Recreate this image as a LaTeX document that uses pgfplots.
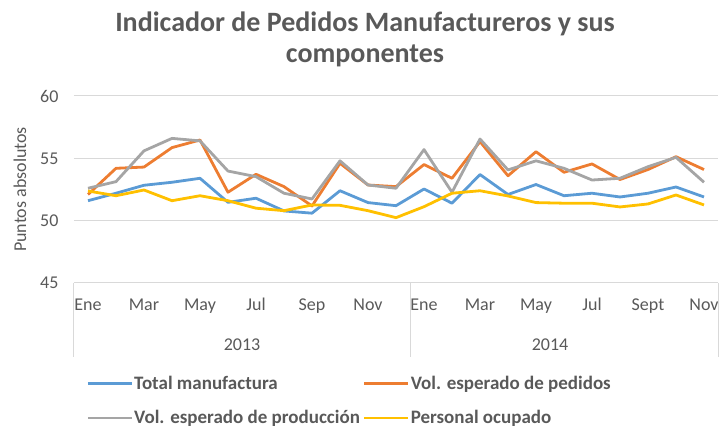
\documentclass[border=0pt]{standalone}
\usepackage{pgfplots}
\pgfplotsset{compat=1.18}
\usepackage{fontspec}
\setmainfont{Carlito}
\definecolor{txt}{HTML}{595959}
\definecolor{grd}{HTML}{D9D9D9}
\definecolor{cblue}{HTML}{5B9BD5}
\definecolor{corange}{HTML}{ED7D31}
\definecolor{cgray}{HTML}{A5A5A5}
\definecolor{cyellow}{HTML}{FFC000}
\begin{document}
\begin{tikzpicture}
\path[use as bounding box] (-74pt,-147pt) rectangle (647pt,283pt);
\begin{axis}[
  at={(0,0)}, anchor=south west,
  scale only axis, width=644pt, height=187pt,
  xmin=-0.5, xmax=22.5, ymin=45, ymax=60,
  ytick={45,50,55,60},
  xtick={0,2,4,6,8,10,12,14,16,18,20,22},
  xticklabels={Ene,Mar,May,Jul,Sep,Nov,Ene,Mar,May,Jul,Sept,Nov},
  ymajorgrids, grid style={grd, line width=1pt},
  axis line style={draw=none}, tick style={draw=none},
  tick label style={font=\fontsize{18}{20}\selectfont, text=txt},
  /pgf/number format/assume math mode=true,
  xticklabel style={anchor=base, yshift=-28pt},
  yticklabel style={anchor=east, xshift=-12pt},
  ylabel={Puntos absolutos},
  every axis y label/.style={at={(axis description cs:-0.084,0.5)}, rotate=90, anchor=center,
    font=\fontsize{18}{20}\selectfont, text=txt},
  clip=false,
  legend columns=2,
  legend cell align=left,
  legend style={draw=none, fill=none, inner sep=0pt,
    at={(axis description cs:0.019,-0.49)}, anchor=north west,
    font=\fontsize{19}{21}\selectfont\bfseries, text=txt,
    nodes={inner sep=1pt},
    /tikz/every odd column/.append style={column sep=0pt},
    /tikz/column 2/.style={column sep=2pt},
    row sep=18pt},
  legend image code/.code={\draw[#1, line width=2.8pt] (0pt,0pt) -- (44pt,0pt);},
  every axis plot/.append style={line width=2.8pt, line join=round},
]
\addplot[cblue] coordinates {(0,51.6) (1,52.2) (2,52.84) (3,53.08) (4,53.4) (5,51.47) (6,51.8) (7,50.78) (8,50.6) (9,52.4) (10,51.45) (11,51.2) (12,52.54) (13,51.4) (14,53.7) (15,52.1) (16,52.9) (17,52.0) (18,52.2) (19,51.9) (20,52.2) (21,52.7) (22,51.9)};
\addlegendentry{Total manufactura}
\addplot[corange] coordinates {(0,52.1) (1,54.2) (2,54.3) (3,55.86) (4,56.47) (5,52.28) (6,53.72) (7,52.73) (8,51.18) (9,54.6) (10,52.86) (11,52.73) (12,54.5) (13,53.4) (14,56.34) (15,53.6) (16,55.53) (17,53.88) (18,54.55) (19,53.3) (20,54.1) (21,55.13) (22,54.1)};
\addlegendentry{Vol. esperado de pedidos}
\addplot[cgray] coordinates {(0,52.6) (1,53.13) (2,55.6) (3,56.6) (4,56.4) (5,53.98) (6,53.53) (7,52.2) (8,51.74) (9,54.8) (10,52.86) (11,52.6) (12,55.7) (13,52.28) (14,56.55) (15,54.07) (16,54.8) (17,54.2) (18,53.26) (19,53.4) (20,54.33) (21,55.08) (22,53.08)};
\addlegendentry{Vol. esperado de producción}
\addplot[cyellow] coordinates {(0,52.38) (1,52.0) (2,52.46) (3,51.6) (4,52.0) (5,51.6) (6,51.0) (7,50.8) (8,51.26) (9,51.23) (10,50.8) (11,50.24) (12,51.12) (13,52.2) (14,52.4) (15,51.98) (16,51.45) (17,51.4) (18,51.4) (19,51.1) (20,51.34) (21,52.06) (22,51.26)};
\addlegendentry{Personal ocupado}
% category group separators and years
\draw[grd, line width=1pt] (axis cs:-0.5,45) -- ([yshift=-74pt]axis cs:-0.5,45);
\draw[grd, line width=1pt] (axis cs:11.5,45) -- ([yshift=-74pt]axis cs:11.5,45);
\draw[grd, line width=1pt] (axis cs:22.5,45) -- ([yshift=-74pt]axis cs:22.5,45);
\node[anchor=base, text=txt, font=\fontsize{18}{20}\selectfont] at ([yshift=-68pt]axis cs:5.5,45) {2013};
\node[anchor=base, text=txt, font=\fontsize{18}{20}\selectfont] at ([yshift=-68pt]axis cs:16.5,45) {2014};
\end{axis}
\node[anchor=base, text=txt, font=\fontsize{28}{31}\selectfont\bfseries] at (291pt,251pt) {Indicador de Pedidos Manufactureros y sus};
\node[anchor=base, text=txt, font=\fontsize{28}{31}\selectfont\bfseries] at (291pt,220pt) {componentes};
\end{tikzpicture}
\end{document}
